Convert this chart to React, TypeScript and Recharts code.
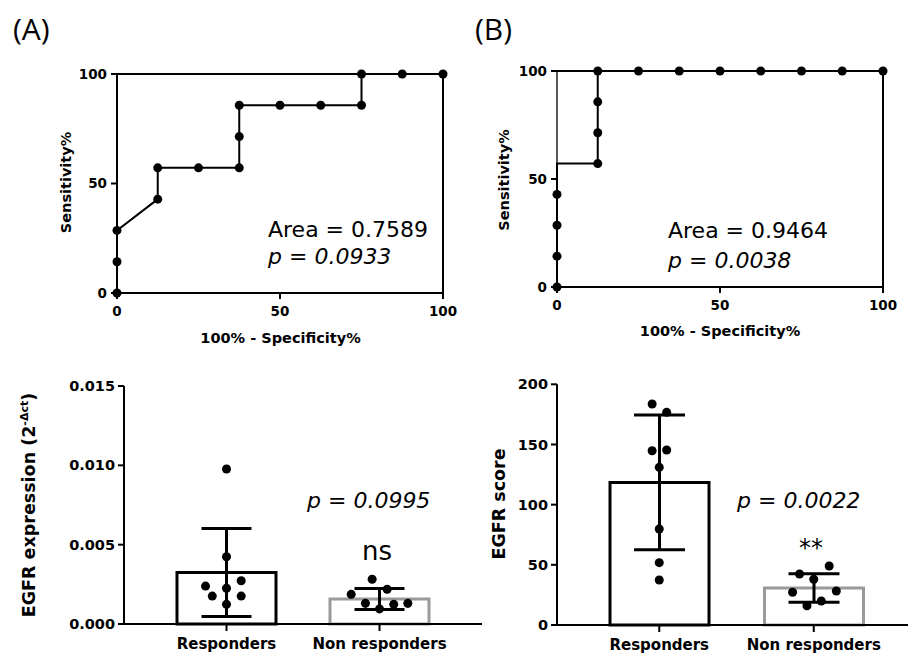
import React from 'react';
import {
  ComposedChart,
  LineChart,
  Line,
  Bar,
  Scatter,
  XAxis,
  YAxis,
  ReferenceLine,
  ErrorBar,
  Cell,
} from 'recharts';

const FONT = "'DejaVu Sans', sans-serif";

// ---------- ROC (A) ----------
const rocASpec = [0, 0, 0, 12.5, 12.5, 25, 37.5, 37.5, 37.5, 50, 62.5, 75, 75, 87.5, 100];
const rocASens = [0, 14.29, 28.57, 42.86, 57.14, 57.14, 57.14, 71.43, 85.71, 85.71, 85.71, 85.71, 100, 100, 100];
const rocAMarked = [1, 1, 1, 1, 1, 1, 1, 1, 1, 1, 1, 1, 1, 1, 1];
// ---------- ROC (B) ----------
const rocBSpec = [0, 0, 0, 0, 0, 12.5, 12.5, 12.5, 12.5, 25, 37.5, 50, 62.5, 75, 87.5, 100];
const rocBSens = [0, 14.29, 28.57, 42.86, 57.14, 57.14, 71.43, 85.71, 100, 100, 100, 100, 100, 100, 100, 100];
const rocBMarked = [1, 1, 1, 1, 0, 1, 1, 1, 1, 1, 1, 1, 1, 1, 1, 1];
const rocTicks = [0, 50, 100];

// ---------- bar groups ----------
const groups = ['Responders', 'Non responders'];
const groupColors = ['#000000', '#9a9a9a'];

// EGFR expression (2^-dct)
const exprMean = [0.00325, 0.00158];
const exprSd = [0.00277, 0.00066];
const exprRespY = [0.00977, 0.00424, 0.00239, 0.00225, 0.00273, 0.00176, 0.00176, 0.00124];
const exprRespX = [0.5, 0.5, 0.363, 0.5, 0.596, 0.407, 0.596, 0.5];
const exprNonY = [0.00282, 0.00187, 0.00219, 0.0013, 0.00095, 0.00124, 0.0013];
const exprNonX = [1.452, 1.315, 1.55, 1.408, 1.5, 1.593, 1.685];
const exprTicks = [0, 0.005, 0.01, 0.015];

// EGFR score
const scoreMean = [118.5, 30.8];
const scoreSd = [56, 11.8];
const scoreRespY = [183.6, 176.7, 144.8, 145.4, 131, 79.8, 51.8, 37.4];
const scoreRespX = [0.454, 0.548, 0.454, 0.548, 0.5, 0.5, 0.5, 0.5];
const scoreNonY = [49, 42.4, 38, 27.2, 28.3, 16, 19.9];
const scoreNonX = [1.6, 1.408, 1.5, 1.363, 1.646, 1.456, 1.549];
const scoreTicks = [0, 50, 100, 150, 200];

const axisStyle = { stroke: '#000', strokeWidth: 2 };

const vTitle = (cx: number, cy: number, size: number, children: React.ReactNode) => () => (
  <text
    x={cx}
    y={cy}
    dy="0.36em"
    transform={`rotate(-90, ${cx}, ${cy})`}
    textAnchor="middle"
    fontFamily={FONT}
    fontWeight="bold"
    fontSize={size}
    fill="#000"
  >
    {children}
  </text>
);

const hTitle = (cx: number, cy: number, size: number, children: React.ReactNode) => () => (
  <text
    x={cx}
    y={cy}
    dy="0.36em"
    textAnchor="middle"
    fontFamily={FONT}
    fontWeight="bold"
    fontSize={size}
    fill="#000"
  >
    {children}
  </text>
);

function Roc(props: {
  left: number;
  width: number;
  spec: number[];
  sens: number[];
  marked: number[];
  yAxisWidth: number;
  margin: { top: number; right: number; bottom: number; left: number };
  yt: [number, number];
  xt: [number, number];
}) {
  const data = props.spec.map((s, i) => ({ x: s, y: props.sens[i] }));
  const tick = { fontSize: 13.5, fontWeight: 700, fill: '#000', fontFamily: FONT };
  const renderDot = (p: any) =>
    props.marked[p.index] ? (
      <circle key={`d${p.index}`} cx={p.cx} cy={p.cy} r={4.5} fill="#000" />
    ) : (
      <g key={`d${p.index}`} />
    );
  return (
    <div style={{ position: 'absolute', left: props.left, top: 0 }}>
      <LineChart width={props.width} height={360} data={data} margin={props.margin}>
        <XAxis
          type="number"
          dataKey="x"
          domain={[0, 100]}
          ticks={rocTicks}
          height={30}
          tickSize={6}
          tickMargin={7}
          axisLine={axisStyle}
          tickLine={axisStyle}
          tick={tick}
          label={{ content: hTitle(props.xt[0], props.xt[1], 14.5, '100% - Specificity%') }}
        />
        <YAxis
          type="number"
          domain={[0, 100]}
          ticks={rocTicks}
          width={60}
          tickSize={6}
          tickMargin={4}
          axisLine={{ stroke: '#000', strokeWidth: props.yAxisWidth }}
          tickLine={axisStyle}
          tick={tick}
          label={{ content: vTitle(props.yt[0], props.yt[1], 14.5, 'Sensitivity%') }}
        />
        <ReferenceLine y={100} stroke="#000" strokeWidth={2} />
        <ReferenceLine x={100} stroke="#000" strokeWidth={2} />
        <Line
          dataKey="y"
          type="linear"
          stroke="#000"
          strokeWidth={2}
          dot={renderDot}
          activeDot={false}
          isAnimationActive={false}
        />
      </LineChart>
    </div>
  );
}

function Bars(props: {
  left: number;
  width: number;
  means: number[];
  sds: number[];
  respY: number[];
  respX: number[];
  nonY: number[];
  nonX: number[];
  ticks: number[];
  fmt: (v: number) => string;
  margin: { top: number; right: number; bottom: number; left: number };
  padding: { left: number; right: number };
  xh: number;
  capHalf: number;
  title: React.ReactNode;
  yt: [number, number];
}) {
  const data = groups.map((g, i) => ({ name: g, mean: props.means[i], sd: props.sds[i] }));
  const resp = props.respY.map((y, i) => ({ x: props.respX[i], y }));
  const non = props.nonY.map((y, i) => ({ x: props.nonX[i], y }));
  const ytick = { fontSize: 14.5, fontWeight: 700, fill: '#000', fontFamily: FONT };
  const xtick = { fontSize: 15, fontWeight: 700, fill: '#000', fontFamily: FONT };
  return (
    <div style={{ position: 'absolute', left: props.left, top: 360 }}>
      <ComposedChart width={props.width} height={293} data={data} margin={props.margin}>
        <XAxis
          xAxisId="cat"
          dataKey="name"
          type="category"
          padding={props.padding}
          height={props.xh}
          interval={0}
          tickSize={7}
          tickMargin={7}
          axisLine={axisStyle}
          tickLine={axisStyle}
          tick={xtick}
        />
        <XAxis xAxisId="num" dataKey="x" type="number" domain={[0, 2]} padding={props.padding} hide />
        <YAxis
          type="number"
          domain={[props.ticks[0], props.ticks[props.ticks.length - 1]]}
          ticks={props.ticks}
          tickFormatter={props.fmt}
          width={60}
          tickSize={6}
          tickMargin={3}
          axisLine={axisStyle}
          tickLine={axisStyle}
          tick={ytick}
          label={{ content: vTitle(props.yt[0], props.yt[1], 17.5, props.title) }}
        />
        <Bar
          xAxisId="cat"
          dataKey="mean"
          barSize={99}
          fill="#fff"
          strokeWidth={3}
          isAnimationActive={false}
        >
          {data.map((d, i) => (
            <Cell key={d.name} stroke={groupColors[i]} fill="#fff" />
          ))}
          <ErrorBar dataKey="sd" width={props.capHalf} stroke="#000" strokeWidth={3} />
        </Bar>
        <Scatter xAxisId="num" data={resp} dataKey="y" fill="#000" isAnimationActive={false} />
        <Scatter xAxisId="num" data={non} dataKey="y" fill="#000" isAnimationActive={false} />
      </ComposedChart>
    </div>
  );
}

const ann = { fontFamily: FONT, fontSize: 22, fill: '#000' } as const;

export default function App() {
  return (
    <div style={{ position: 'absolute', left: 0, top: 0, width: 908, height: 653, background: '#fff', overflow: 'hidden' }}>
      <Roc
        left={0}
        width={460}
        spec={rocASpec}
        sens={rocASens}
        marked={rocAMarked}
        yAxisWidth={2}
        margin={{ top: 74, right: 17, bottom: 37, left: 57 }}
        yt={[66, 182.5]}
        xt={[280.5, 337.5]}
      />
      <Roc
        left={460}
        width={448}
        spec={rocBSpec}
        sens={rocBSens}
        marked={rocBMarked}
        yAxisWidth={1.3}
        margin={{ top: 71, right: 25, bottom: 43, left: 37 }}
        yt={[44, 180]}
        xt={[260, 331]}
      />
      <Bars
        left={0}
        width={490}
        means={exprMean}
        sds={exprSd}
        respY={exprRespY}
        respX={exprRespX}
        nonY={exprNonY}
        nonX={exprNonX}
        ticks={exprTicks}
        fmt={(v) => v.toFixed(3)}
        margin={{ top: 26, right: 8, bottom: 0, left: 64 }}
        padding={{ left: 26, right: 26 }}
        xh={29}
        capHalf={25}
        yt={[29, 145]}
        title={
          <>
            EGFR expression (2
            <tspan fontSize={11} dy={-7}>-Δct</tspan>
            <tspan dy={7}>)</tspan>
          </>
        }
      />
      <Bars
        left={460}
        width={448}
        means={scoreMean}
        sds={scoreSd}
        respY={scoreRespY}
        respX={scoreRespX}
        nonY={scoreNonY}
        nonX={scoreNonX}
        ticks={scoreTicks}
        fmt={(v) => String(v)}
        margin={{ top: 24.3, right: 0, bottom: 0, left: 37 }}
        padding={{ left: 25, right: 17 }}
        xh={28}
        capHalf={25.5}
        yt={[39, 144]}
        title="EGFR score"
      />
      <svg width={908} height={653} style={{ position: 'absolute', left: 0, top: 0, pointerEvents: 'none' }}>
        <text x={13} y={40} fontFamily="'Open Sans', sans-serif" fontSize={30} fill="#000">(A)</text>
        <text x={475} y={40} fontFamily="'Open Sans', sans-serif" fontSize={30} fill="#000">(B)</text>

        <text x={268} y={237} {...ann}>Area = 0.7589</text>
        <text x={268} y={264} {...ann}>
          <tspan fontStyle="italic">p</tspan> = <tspan fontStyle="italic">0.0933</tspan>
        </text>

        <text x={668} y={238} {...ann}>Area = 0.9464</text>
        <text x={668} y={268} {...ann}>
          <tspan fontStyle="italic">p</tspan> = <tspan fontStyle="italic">0.0038</tspan>
        </text>

        <text x={307} y={508} {...ann}>
          <tspan fontStyle="italic">p</tspan> = <tspan fontStyle="italic">0.0995</tspan>
        </text>
        <text x={377} y={560} fontFamily={FONT} fontSize={26} fill="#000" textAnchor="middle">ns</text>

        <text x={737} y={508} {...ann}>
          <tspan fontStyle="italic">p</tspan> = <tspan fontStyle="italic">0.0022</tspan>
        </text>
        <text x={811} y={556} fontFamily={FONT} fontSize={24} fill="#000" textAnchor="middle">**</text>
      </svg>
    </div>
  );
}
